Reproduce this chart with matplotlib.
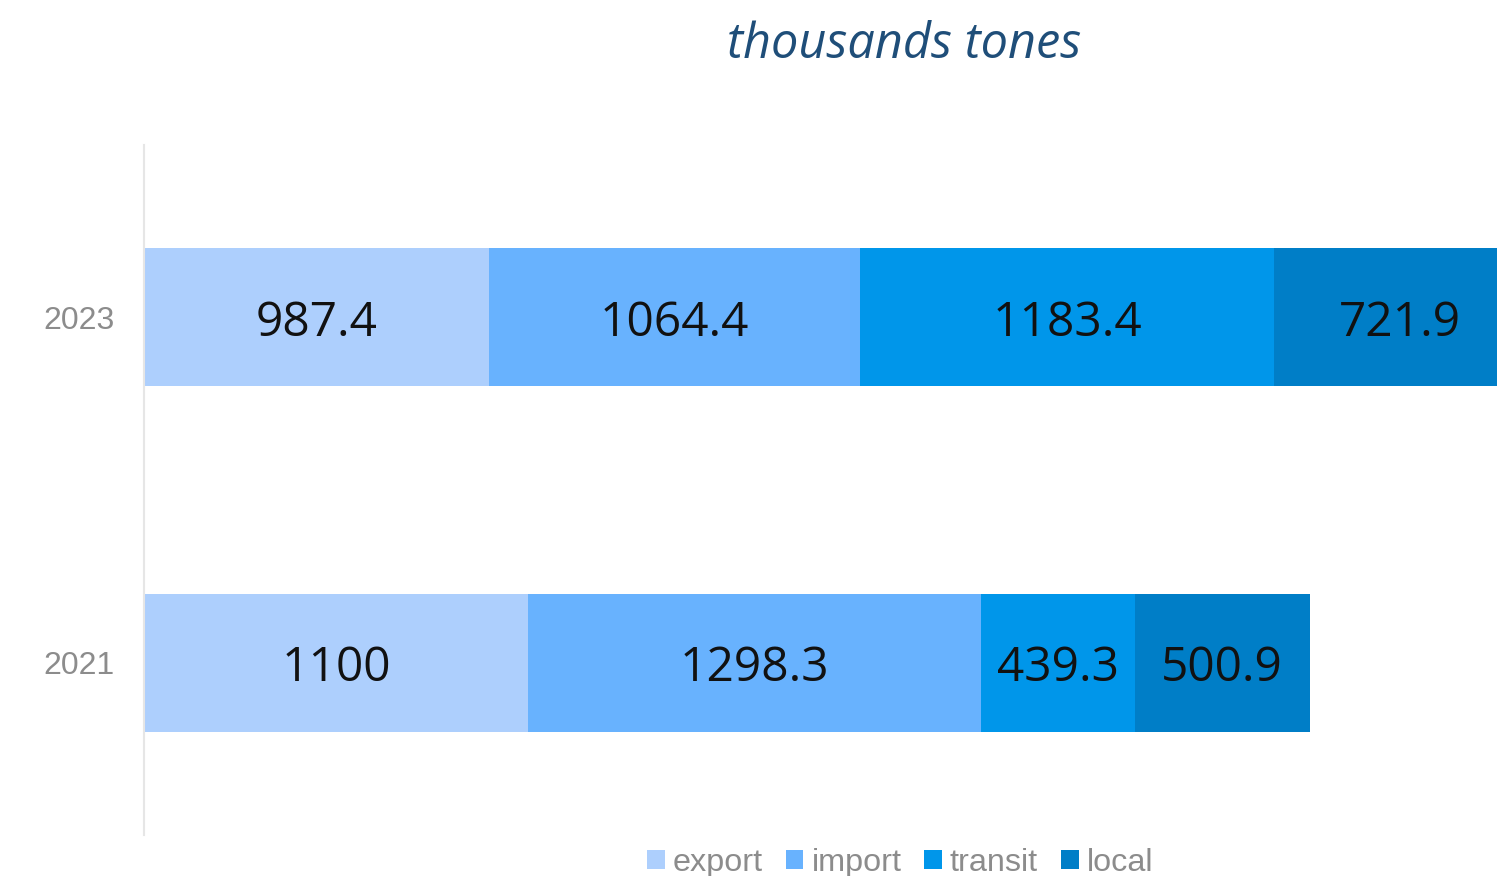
import matplotlib
matplotlib.use("Agg")
import matplotlib.pyplot as plt
from matplotlib.patches import Patch

years = ["2023", "2021"]
series_names = ["export", "import", "transit", "local"]
export_vals = [987.4, 1100]
import_vals = [1064.4, 1298.3]
transit_vals = [1183.4, 439.3]
local_vals = [721.9, 500.9]
value_labels = [["987.4", "1100"], ["1064.4", "1298.3"], ["1183.4", "439.3"], ["721.9", "500.9"]]
colors = ["#ADCFFD", "#68B2FE", "#0096EA", "#007EC7"]

series = [export_vals, import_vals, transit_vals, local_vals]

fig = plt.figure(figsize=(14.97, 8.76), dpi=100)
ax = fig.add_axes([144/1497, 1 - 835/876, 1 - 144/1497, (835 - 145)/876])

ypos = [0, 1]
left = [0.0, 0.0]
for vals, col, labs in zip(series, colors, value_labels):
    ax.barh(ypos, vals, left=left, height=0.4, color=col, edgecolor="none")
    for y, l, v, t in zip(ypos, left, vals, labs):
        ax.text(l + v / 2, y + 0.016, t, ha="center", va="center", fontsize=34.5,
                family=["Open Sans", "DejaVu Sans"], color="#111111")
    left = [a + b for a, b in zip(left, vals)]

ax.set_xlim(0, 3875)
ax.set_ylim(1.5, -0.5)
ax.set_yticks(ypos)
ax.set_yticklabels(years, fontsize=23, color="#8C8C8C", family="Liberation Sans")
ax.tick_params(axis="y", length=0, pad=21)
ax.set_xticks([])
for s in ["top", "right", "bottom"]:
    ax.spines[s].set_visible(False)
ax.spines["left"].set_color("#E6E6E6")
ax.spines["left"].set_linewidth(1.5)

fig.text(904/1497, 1 - 45/876, "thousands tones", ha="center", va="center",
         fontsize=35, style="italic", color="#1F4E79", family="Open Sans")

handles = [Patch(facecolor=c, edgecolor="none") for c in colors]
leg = fig.legend(handles, series_names, loc="center", bbox_to_anchor=(900/1497, 1 - 863/876),
                 ncol=4, frameon=False, fontsize=23.3, handlelength=0.55, handleheight=0.55,
                 handletextpad=0.25, columnspacing=0.7, borderpad=0)
for t in leg.get_texts():
    t.set_color("#8C8C8C")
    t.set_family("Liberation Sans")

fig.savefig("out.png", dpi=100)
